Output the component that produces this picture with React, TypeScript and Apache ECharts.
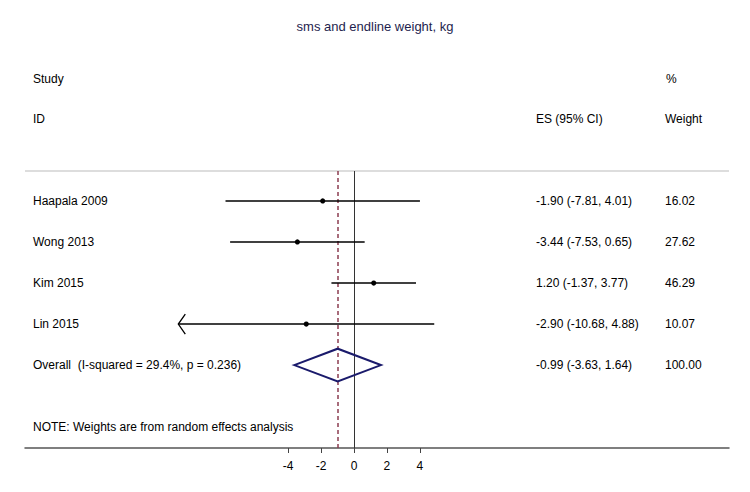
import React, { useEffect, useRef } from "react";
import * as echarts from "echarts";

const titleText = "sms and endline weight, kg";
const studies = ["Haapala 2009", "Wong 2013", "Kim 2015", "Lin 2015"];
const es = [-1.9, -3.44, 1.2, -2.9];
const lower = [-7.81, -7.53, -1.37, -10.68];
const upper = [4.01, 0.65, 3.77, 4.88];
const weights = ["16.02", "27.62", "46.29", "10.07"];
const arrowLeft = [false, false, false, true];
const overallLabel = "Overall  (I-squared = 29.4%, p = 0.236)";
const overallEs = -0.99;
const overallLo = -3.63;
const overallHi = 1.64;
const overallWeight = "100.00";
const xTicks = [-4, -2, 0, 2, 4];
const noteText = "NOTE: Weights are from random effects analysis";

const FONT = '"Liberation Sans", Arial, sans-serif';
const fmt = (v: number) => v.toFixed(2);

export default function App() {
  const ref = useRef<HTMLDivElement>(null);
  useEffect(() => {
    document.body.style.margin = "0";
    const chart = echarts.init(ref.current!, null, { renderer: "svg" });
    const textStyle = (text: string, x: number, y: number) => ({
      text,
      x,
      y,
      fill: "#000",
      fontSize: 12,
      fontFamily: FONT,
      verticalAlign: "middle",
      align: "left",
    });
    const studyData = studies.map((s, i) => [es[i], i, lower[i], upper[i]]);
    const overallRow = studies.length;
    chart.setOption({
      animation: false,
      backgroundColor: "#fff",
      grid: { left: 25, right: 21, top: 171, bottom: 44, containLabel: false },
      xAxis: {
        type: "value",
        min: -20,
        max: 22.8,
        splitLine: { show: false },
        axisLine: { show: true, onZero: false, lineStyle: { color: "#555", width: 1.5 } },
        axisTick: { show: true, customValues: xTicks, length: 5, lineStyle: { color: "#444" } },
        axisLabel: { customValues: xTicks, color: "#000", fontSize: 12, fontFamily: FONT, margin: 12 },
      },
      yAxis: { type: "value", inverse: true, min: -0.73, max: 6.02, show: false },
      graphic: [
        { type: "text", left: "center", top: 20, style: { text: titleText, fill: "#1e1e4e", fontSize: 13, fontFamily: FONT } },
        { type: "text", x: 33, y: 79, style: textStyle("Study", 0, 0) },
        { type: "text", x: 33, y: 119, style: textStyle("ID", 0, 0) },
        { type: "text", x: 536, y: 119, style: textStyle("ES (95% CI)", 0, 0) },
        { type: "text", x: 666, y: 79, style: textStyle("%", 0, 0) },
        { type: "text", x: 665, y: 119, style: textStyle("Weight", 0, 0) },
        { type: "text", x: 33, y: 427, style: textStyle(noteText, 0, 0) },
        { type: "line", shape: { x1: 25, y1: 171, x2: 729, y2: 171 }, style: { stroke: "#bbb", lineWidth: 1 } },
      ],
      series: [
        {
          type: "line",
          data: [],
          markLine: {
            silent: true,
            symbol: "none",
            label: { show: false },
            data: [
              { xAxis: 0, lineStyle: { color: "#333", width: 1, type: "solid" } },
              { xAxis: overallEs, lineStyle: { color: "#8c3c50", width: 1.5, type: [4, 3] } },
            ],
          },
        },
        {
          type: "custom",
          z: 5,
          encode: { x: [0, 2, 3], y: 1 },
          data: studyData,
          renderItem: (params: any, api: any) => {
            const i = params.dataIndex;
            const p = api.coord([api.value(0), api.value(1)]);
            const lo = api.coord([api.value(2), api.value(1)]);
            const hi = api.coord([api.value(3), api.value(1)]);
            const children: any[] = [
              { type: "line", shape: { x1: lo[0], y1: lo[1], x2: hi[0], y2: hi[1] }, style: { stroke: "#000", lineWidth: 1.6 } },
              { type: "circle", shape: { cx: p[0], cy: p[1], r: 2.6 }, style: { fill: "#000" } },
              { type: "text", style: textStyle(studies[i], 33, p[1]) },
              { type: "text", style: textStyle(`${fmt(es[i])} (${fmt(lower[i])}, ${fmt(upper[i])})`, 536, p[1]) },
              { type: "text", style: textStyle(weights[i], 665, p[1]) },
            ];
            if (arrowLeft[i]) {
              children.push({
                type: "polyline",
                shape: { points: [[lo[0] + 7, lo[1] - 10], [lo[0], lo[1]], [lo[0] + 7, lo[1] + 10]] },
                style: { stroke: "#000", lineWidth: 1.3, fill: "none" },
              });
            }
            return { type: "group", children };
          },
        },
        {
          type: "custom",
          z: 5,
          encode: { x: [0, 2, 3], y: 1 },
          data: [[overallEs, overallRow, overallLo, overallHi]],
          renderItem: (params: any, api: any) => {
            const row = api.value(1);
            const c = api.coord([api.value(0), row]);
            const top = api.coord([api.value(0), row - 0.4]);
            const bot = api.coord([api.value(0), row + 0.4]);
            const lo = api.coord([api.value(2), row]);
            const hi = api.coord([api.value(3), row]);
            return {
              type: "group",
              children: [
                {
                  type: "polygon",
                  shape: { points: [lo, top, hi, bot] },
                  style: { stroke: "#1a1a6b", lineWidth: 2, fill: "none" },
                },
                { type: "text", style: textStyle(overallLabel, 33, c[1]) },
                { type: "text", style: textStyle(`${fmt(overallEs)} (${fmt(overallLo)}, ${fmt(overallHi)})`, 536, c[1]) },
                { type: "text", style: textStyle(overallWeight, 665, c[1]) },
              ],
            };
          },
        },
      ],
    });
    return () => chart.dispose();
  }, []);
  return <div ref={ref} style={{ width: 750, height: 492 }} />;
}
